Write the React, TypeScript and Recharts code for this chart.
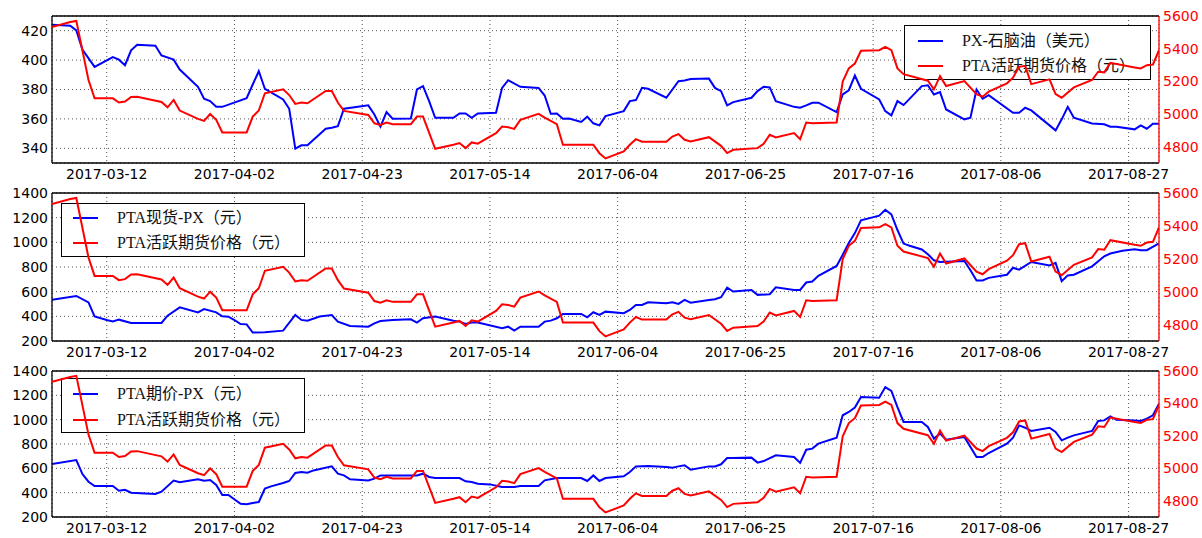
import React from 'react';
import { LineChart, Line, XAxis, YAxis, CartesianGrid, ReferenceLine, Legend } from 'recharts';

const YEAR = '2017';
const X_START = '03-03';
const X_END = '09-01';
const X_TICKS = ['03-12', '04-02', '04-23', '05-14', '06-04', '06-25', '07-16', '08-06', '08-27'];

// PTA active futures price (yuan) - right axis, shared by all panels
const futDates = ['03-03','03-06','03-07','03-09','03-10','03-13','03-14','03-15','03-16','03-17','03-21','03-22','03-23','03-24','03-27','03-28','03-29','03-30','03-31','04-04','04-05','04-06','04-07','04-10','04-11','04-12','04-13','04-14','04-17','04-18','04-19','04-20','04-24','04-25','04-26','04-27','04-28','05-01','05-02','05-03','05-05','05-08','05-09','05-10','05-11','05-12','05-15','05-16','05-17','05-18','05-19','05-22','05-23','05-25','05-26','05-31','06-01','06-02','06-05','06-06','06-07','06-08','06-12','06-13','06-14','06-15','06-16','06-19','06-21','06-22','06-23','06-27','06-28','06-29','06-30','07-03','07-04','07-05','07-06','07-10','07-11','07-12','07-13','07-14','07-17','07-18','07-19','07-20','07-21','07-25','07-26','07-27','07-28','07-31','08-02','08-03','08-04','08-07','08-08','08-09','08-10','08-11','08-14','08-15','08-16','08-18','08-21','08-22','08-23','08-24','08-28','08-29','08-30','08-31','09-01'];
const futValues = [5533,5563,5570,5208,5096,5096,5070,5076,5104,5106,5074,5041,5086,5021,4970,4958,5000,4964,4887,4887,4984,5021,5127,5151,5116,5062,5070,5066,5141,5141,5070,5019,4994,4943,4933,4948,4938,4938,4984,4984,4787,4812,4822,4791,4826,4818,4883,4923,4919,4909,4964,5001,4978,4938,4812,4812,4760,4728,4771,4812,4846,4830,4830,4862,4877,4842,4832,4858,4805,4761,4781,4791,4818,4873,4856,4883,4846,4948,4944,4948,5198,5279,5309,5387,5391,5411,5391,5279,5244,5204,5151,5232,5171,5202,5122,5106,5137,5188,5222,5289,5295,5183,5212,5122,5100,5163,5208,5259,5255,5313,5285,5279,5299,5303,5391];

// PX - naphtha spread (USD)
const pxDates = ['03-03','03-06','03-07','03-08','03-10','03-13','03-14','03-15','03-16','03-17','03-20','03-21','03-23','03-24','03-27','03-28','03-29','03-30','03-31','04-04','04-05','04-06','04-07','04-10','04-11','04-12','04-13','04-14','04-17','04-18','04-19','04-20','04-24','04-25','04-26','04-27','04-28','05-01','05-02','05-03','05-04','05-05','05-08','05-09','05-10','05-11','05-12','05-15','05-16','05-17','05-19','05-22','05-23','05-24','05-25','05-26','05-27','05-29','05-30','05-31','06-01','06-02','06-05','06-06','06-07','06-08','06-09','06-12','06-14','06-15','06-16','06-19','06-20','06-21','06-22','06-23','06-26','06-27','06-28','06-29','06-30','07-03','07-04','07-05','07-06','07-07','07-10','07-11','07-12','07-13','07-14','07-17','07-18','07-19','07-20','07-21','07-24','07-25','07-26','07-27','07-28','07-31','08-01','08-02','08-03','08-04','08-08','08-09','08-10','08-11','08-15','08-16','08-17','08-18','08-21','08-23','08-24','08-25','08-28','08-29','08-30','08-31','09-01'];
const pxValues = [424.1,423.4,420.2,407.1,395.4,402.1,400.3,396.5,406.7,410.5,409.8,403.1,400.3,393.6,381.8,373.7,372.1,368.2,368.2,374.1,383.4,392.4,380.5,373.2,366.9,339.8,342,342,353.3,354,355.1,366.9,369.2,363,354.7,364.6,360.1,360.3,380,382.3,372.1,360.8,360.8,363.7,363.7,360.8,363.7,364.2,381.1,386.3,381.8,381.1,375.9,363.5,363.7,360.1,360.3,357.9,361.5,357,355.6,361.9,365.3,372.1,372.8,381.1,380.5,374.4,385.6,386.1,387.2,387.4,381.1,378.9,369.2,371.4,374.4,378.9,381.8,381.4,372.1,368.2,367.6,369.2,371,371,364.6,376.6,379.5,389.5,380.5,373.2,365.3,362.4,372.1,369.4,382.3,382.9,376.6,378.2,366.4,359.7,360.8,380,373.7,376.2,364.2,364.2,367.6,365.8,352.2,359.7,368.2,360.8,356.9,356.3,354.7,354.7,352.9,355.6,353.3,356.7,356.7];

// PTA spot - PX (yuan)
const spotDates = ['03-03','03-07','03-09','03-10','03-12','03-13','03-14','03-16','03-21','03-22','03-24','03-27','03-28','03-30','03-31','04-01','04-02','04-03','04-04','04-05','04-07','04-10','04-12','04-13','04-14','04-16','04-18','04-19','04-21','04-24','04-25','04-26','04-28','04-29','05-01','05-02','05-03','05-05','05-08','05-09','05-10','05-11','05-12','05-16','05-17','05-18','05-19','05-22','05-23','05-24','05-25','05-26','05-29','05-30','05-31','06-01','06-02','06-05','06-06','06-07','06-08','06-09','06-12','06-13','06-14','06-15','06-16','06-19','06-20','06-21','06-22','06-23','06-26','06-27','06-29','06-30','07-03','07-04','07-05','07-06','07-07','07-10','07-11','07-12','07-13','07-14','07-17','07-18','07-19','07-20','07-21','07-22','07-24','07-25','07-26','07-27','07-31','08-01','08-02','08-03','08-04','08-07','08-08','08-09','08-11','08-14','08-15','08-16','08-17','08-18','08-21','08-23','08-24','08-26','08-28','08-29','08-30','09-01'];
const spotValues = [535,565,513,400,370,359,373,346,346,405,473,432,459,432,400,397,370,338,335,268,270,284,411,371,365,398,411,357,322,316,343,362,370,373,376,349,384,398,365,357,338,349,349,303,316,284,316,316,357,365,384,419,419,392,433,411,438,425,452,492,492,514,506,514,501,533,511,533,539,555,633,601,614,574,579,636,614,614,674,682,728,809,899,994,1075,1178,1216,1264,1226,1100,990,972,942,904,854,841,849,773,691,691,712,737,794,778,841,813,833,685,732,737,805,887,909,931,944,936,936,991];

// PTA futures - PX (yuan)
const basisDates = ['03-03','03-07','03-08','03-09','03-10','03-13','03-14','03-15','03-16','03-20','03-21','03-23','03-24','03-27','03-28','03-29','03-30','03-31','04-01','04-03','04-04','04-05','04-06','04-07','04-08','04-10','04-11','04-12','04-13','04-14','04-15','04-18','04-19','04-20','04-21','04-24','04-25','04-26','04-29','05-02','05-03','05-04','05-05','05-09','05-10','05-11','05-12','05-14','05-16','05-18','05-19','05-22','05-23','05-25','05-29','05-30','05-31','06-01','06-02','06-05','06-06','06-07','06-09','06-12','06-13','06-14','06-15','06-16','06-19','06-20','06-21','06-22','06-23','06-26','06-27','06-28','06-30','07-03','07-04','07-05','07-06','07-07','07-10','07-11','07-12','07-13','07-14','07-17','07-18','07-19','07-20','07-21','07-24','07-25','07-26','07-27','07-28','07-31','08-02','08-03','08-04','08-07','08-08','08-09','08-10','08-11','08-14','08-15','08-16','08-17','08-18','08-21','08-22','08-23','08-24','08-25','08-28','08-29','08-30','08-31','09-01'];
const basisValues = [636,668,553,490,455,455,416,423,400,389,408,499,485,510,499,504,463,381,381,308,304,315,323,433,452,479,496,562,570,564,583,616,556,542,510,501,515,542,542,542,556,529,520,520,493,488,474,468,446,446,455,455,501,520,520,496,542,496,520,534,570,616,619,611,605,616,625,589,616,616,633,685,685,688,647,660,707,693,645,753,762,803,852,1036,1063,1099,1186,1181,1268,1236,1104,981,981,940,844,885,836,858,693,693,726,803,852,953,934,907,934,899,830,852,871,907,989,994,1027,1000,994,989,1008,1036,1131];

const FUT_NAME = 'PTA活跃期货价格（元）';
const RIGHT_TICKS = [4700, 4800, 4900, 5000, 5100, 5200, 5300, 5400, 5500, 5600];
const TOP_LEFT_TICKS = [340, 360, 380, 400, 420];
const LOW_LEFT_TICKS = [200, 400, 600, 800, 1000, 1200, 1400];

const ts = (md: string) => Date.parse(`${YEAR}-${md}T00:00:00Z`);
const toPts = (dates: string[], vals: number[]) => dates.map((d, i) => ({ t: ts(d), v: vals[i] }));
const fmt = (t: number) => new Date(t).toISOString().slice(0, 10);

const X_DOMAIN: [number, number] = [ts(X_START), ts(X_END)];
const X_TICK_TS = X_TICKS.map(ts);

const W = 1202;
const H = 200;
const LEFT_W = 52;
const RIGHT_W = 43;
const TICK_FONT = { fontSize: 14, fontFamily: 'DejaVu Sans' };
const LEGEND_FONT = '"Liberation Serif", "Noto Sans CJK SC", serif';

type PanelProps = {
  top: number;
  plotH: number;
  blueDates: string[];
  blueValues: number[];
  blueName: string;
  leftDomain: [number, number];
  leftTicks: number[];
  legend: { left: number; top: number; width: number; height: number; lineX: number; textX: number; row1: number; row2: number };
};

function LegendBox({ spec, blueName }: { spec: PanelProps['legend']; blueName: string }) {
  const rows = [
    { name: blueName, color: '#0000ff', y: spec.row1 },
    { name: FUT_NAME, color: '#ff0000', y: spec.row2 },
  ];
  return (
    <div
      style={{
        position: 'relative',
        width: spec.width,
        height: spec.height,
        boxSizing: 'border-box',
        border: '1px solid #000',
        background: '#fff',
        fontFamily: LEGEND_FONT,
        fontSize: 16,
        color: '#111',
      }}
    >
      {rows.map((r) => (
        <div key={r.name}>
          <div
            style={{
              position: 'absolute',
              left: spec.lineX,
              top: r.y - 1,
              width: 25,
              height: 2,
              background: r.color,
            }}
          />
          <div
            style={{
              position: 'absolute',
              left: spec.textX,
              top: r.y - 11,
              height: 22,
              lineHeight: '22px',
              whiteSpace: 'nowrap',
            }}
          >
            {r.name}
          </div>
        </div>
      ))}
    </div>
  );
}

function Panel(p: PanelProps) {
  const bottomA = H - 16 - p.plotH - 20;
  const bluePts = toPts(p.blueDates, p.blueValues);
  const futPts = toPts(futDates, futValues);
  return (
    <div style={{ position: 'absolute', left: 0, top: p.top, width: W, height: H }}>
      <div style={{ position: 'absolute', left: 0, top: 0 }}>
        <LineChart width={W} height={H} margin={{ top: 16, right: RIGHT_W, bottom: bottomA, left: 0 }}>
          <CartesianGrid yAxisId="l" stroke="#555" strokeDasharray="1 3" strokeWidth={1} />
          <XAxis
            dataKey="t"
            type="number"
            domain={X_DOMAIN}
            ticks={X_TICK_TS}
            tickFormatter={fmt}
            interval={0}
            allowDataOverflow
            height={20}
            tickSize={0}
            tickMargin={6}
            axisLine={{ stroke: '#000', strokeWidth: 1.3 }}
            tick={{ ...TICK_FONT, fill: '#000' }}
          />
          <YAxis
            yAxisId="l"
            dataKey="v"
            type="number"
            domain={p.leftDomain}
            ticks={p.leftTicks}
            allowDataOverflow
            width={LEFT_W}
            tickSize={0}
            tickMargin={4}
            axisLine={{ stroke: '#000', strokeWidth: 1.3 }}
            tick={{ ...TICK_FONT, fill: '#000' }}
          />
          <ReferenceLine yAxisId="l" y={p.leftDomain[1]} stroke="#000" strokeWidth={1.3} />
          <Line
            data={bluePts}
            dataKey="v"
            yAxisId="l"
            name={p.blueName}
            type="linear"
            stroke="#0000ff"
            strokeWidth={2}
            dot={false}
            isAnimationActive={false}
          />
          <Legend
            layout="horizontal"
            verticalAlign="middle"
            align="center"
            wrapperStyle={{ left: p.legend.left, top: p.legend.top, width: p.legend.width, height: p.legend.height }}
            content={() => <LegendBox spec={p.legend} blueName={p.blueName} />}
          />
        </LineChart>
      </div>
      <div style={{ position: 'absolute', left: 0, top: 0 }}>
        <LineChart width={W} height={H} margin={{ top: 16, right: 0, bottom: bottomA + 20, left: LEFT_W }}>
          <XAxis dataKey="t" type="number" domain={X_DOMAIN} allowDataOverflow hide />
          <YAxis
            yAxisId="r"
            orientation="right"
            dataKey="v"
            type="number"
            domain={[4700, 5600]}
            ticks={RIGHT_TICKS}
            allowDataOverflow
            width={RIGHT_W}
            tickSize={0}
            tickMargin={4}
            axisLine={{ stroke: '#ff0000', strokeWidth: 1.3 }}
            tick={{ ...TICK_FONT, fill: '#ff0000' }}
          />
          <Line
            data={futPts}
            dataKey="v"
            yAxisId="r"
            name={FUT_NAME}
            type="linear"
            stroke="#ff0000"
            strokeWidth={2}
            dot={false}
            isAnimationActive={false}
          />
        </LineChart>
      </div>
    </div>
  );
}

export default function App() {
  return (
    <div style={{ position: 'absolute', left: 0, top: 0, width: W, height: 538, overflow: 'hidden', background: '#fff' }}>
      <Panel
        top={0}
        plotH={147}
        blueDates={pxDates}
        blueValues={pxValues}
        blueName="PX-石脑油（美元）"
        leftDomain={[330, 430]}
        leftTicks={TOP_LEFT_TICKS}
        legend={{ left: 904, top: 25, width: 247, height: 55, lineX: 13, textX: 57, row1: 15, row2: 40 }}
      />
      <Panel
        top={177}
        plotH={148}
        blueDates={spotDates}
        blueValues={spotValues}
        blueName="PTA现货-PX（元）"
        leftDomain={[200, 1400]}
        leftTicks={LOW_LEFT_TICKS}
        legend={{ left: 61, top: 26, width: 244, height: 54, lineX: 11, textX: 55, row1: 14, row2: 39 }}
      />
      <Panel
        top={355}
        plotH={146}
        blueDates={basisDates}
        blueValues={basisValues}
        blueName="PTA期价-PX（元）"
        leftDomain={[200, 1400]}
        leftTicks={LOW_LEFT_TICKS}
        legend={{ left: 61, top: 23, width: 244, height: 55, lineX: 11, textX: 55, row1: 15, row2: 41 }}
      />
    </div>
  );
}
